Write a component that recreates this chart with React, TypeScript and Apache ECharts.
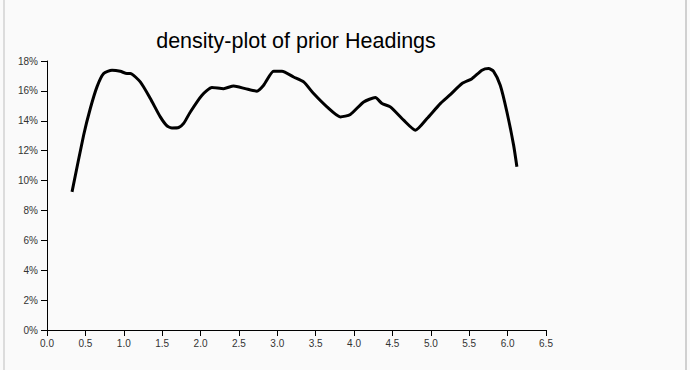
import React, { useEffect, useRef } from "react";
import * as echarts from "echarts";

const xValues = [
  0.326, 0.477, 0.564, 0.651, 0.738, 0.847, 0.955, 1.042, 1.085, 1.215, 1.346, 1.476,
  1.563, 1.628, 1.715, 1.78, 1.867, 2.019, 2.149, 2.3, 2.431, 2.583, 2.735, 2.822,
  2.952, 3.061, 3.212, 3.343, 3.473, 3.647, 3.821, 3.951, 4.125, 4.277, 4.364, 4.472,
  4.646, 4.8, 4.95, 5.123, 5.253, 5.406, 5.536, 5.666, 5.752, 5.817, 5.904, 5.991,
  6.078, 6.121,
];
const densityPct = [
  9.24, 13.03, 14.82, 16.27, 17.16, 17.38, 17.31, 17.16, 17.16, 16.6, 15.49, 14.26,
  13.66, 13.52, 13.55, 13.82, 14.59, 15.71, 16.22, 16.15, 16.33, 16.15, 15.98, 16.38,
  17.31, 17.31, 16.93, 16.6, 15.82, 14.93, 14.26, 14.42, 15.26, 15.55, 15.15, 14.93,
  14.04, 13.37, 14.15, 15.15, 15.75, 16.49, 16.82, 17.38, 17.49, 17.31, 16.38, 14.59,
  12.37, 10.92,
];
const titleText = "density-plot of prior Headings";

export default function App() {
  const ref = useRef<HTMLDivElement>(null);
  useEffect(() => {
    if (!ref.current) return;
    const chart = echarts.init(ref.current, undefined, { renderer: "svg" });
    const labelStyle = {
      fontFamily: "Liberation Sans, Arial, sans-serif",
      fontSize: 10,
      color: "#333",
    };
    chart.setOption({
      animation: false,
      backgroundColor: "transparent",
      title: {
        text: titleText,
        left: 296,
        textAlign: "center",
        top: 30,
        padding: 0,
        textStyle: {
          fontFamily: "Liberation Sans, Arial, sans-serif",
          fontSize: 21.5,
          fontWeight: "normal",
          color: "#000",
        },
      },
      grid: { left: 47, right: 144, top: 61, bottom: 40, containLabel: false },
      xAxis: {
        type: "value",
        min: 0,
        max: 6.5,
        interval: 0.5,
        splitLine: { show: false },
        axisLine: { lineStyle: { color: "#000", width: 1 } },
        axisTick: { show: true, length: 6, lineStyle: { color: "#000" } },
        axisLabel: {
          ...labelStyle,
          margin: 8,
          showMinLabel: true,
          showMaxLabel: true,
          formatter: (v: number) => v.toFixed(1),
        },
      },
      yAxis: {
        type: "value",
        min: 0,
        max: 18,
        interval: 2,
        splitLine: { show: false },
        axisLine: { show: true, lineStyle: { color: "#000", width: 1 } },
        axisTick: { show: true, length: 6, lineStyle: { color: "#000" } },
        axisLabel: {
          ...labelStyle,
          margin: 9,
          formatter: (v: number) => `${v}%`,
        },
      },
      series: [
        {
          type: "line",
          data: xValues.map((x, i) => [x, densityPct[i]]),
          showSymbol: false,
          smooth: 0.2,
          lineStyle: { color: "#000", width: 3 },
        },
      ],
    });
    return () => chart.dispose();
  }, []);
  return (
    <div
      style={{
        position: "fixed",
        left: 0,
        top: 0,
        width: 690,
        height: 370,
        background: "#fafafa",
        overflow: "hidden",
      }}
    >
      <div style={{ position: "absolute", left: 3, top: 0, width: 2, height: 370, background: "#dcdcdc" }} />
      <div style={{ position: "absolute", left: 685, top: 0, width: 2, height: 370, background: "#d0d0d0" }} />
      <div ref={ref} style={{ position: "absolute", left: 0, top: 0, width: 690, height: 370 }} />
    </div>
  );
}
